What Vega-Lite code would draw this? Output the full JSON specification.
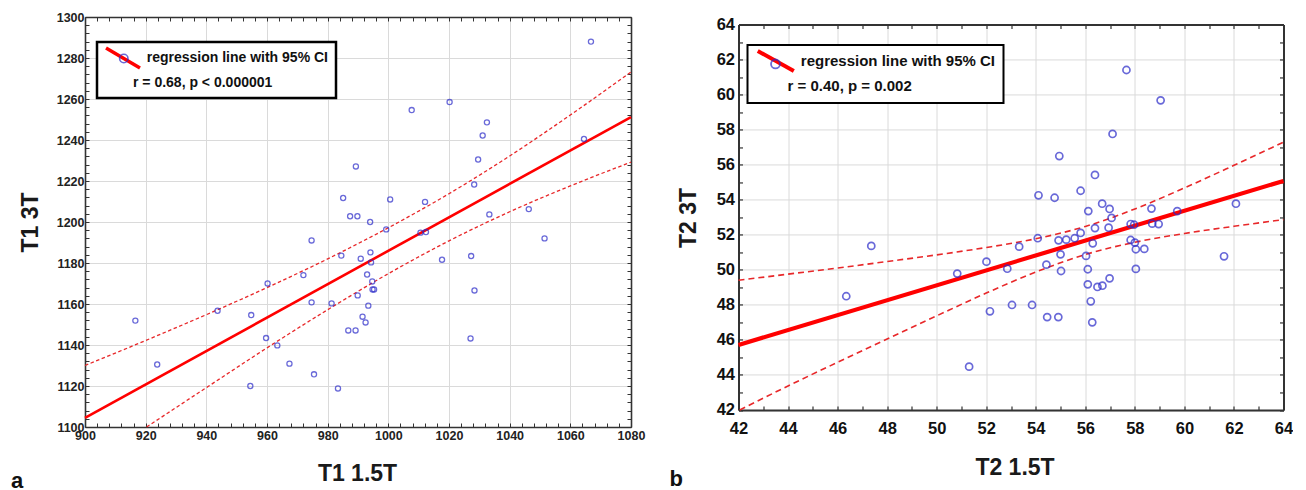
{
  "$schema": "https://vega.github.io/schema/vega-lite/v6.json",
  "padding": {"left": 11, "top": 11, "right": 0, "bottom": 3},
  "spacing": 24.5,
  "config": {
    "font": "Liberation Sans",
    "view": {"stroke": null},
    "axis": {"labelFont": "Liberation Sans", "titleFont": "Liberation Sans"},
    "legend": {"labelFont": "Liberation Sans", "titleFont": "Liberation Sans"}
  },
  "resolve": {
    "scale": {"stroke": "independent", "shape": "independent"},
    "legend": {"stroke": "independent", "shape": "independent"}
  },
  "datasets": {
    "t1pts": [
      {"x": 916.6, "y": 1151.9}, {"x": 923.8, "y": 1130.5}, {"x": 943.7, "y": 1156.7}, {"x": 954.5, "y": 1120.0},
      {"x": 954.8, "y": 1154.6}, {"x": 959.7, "y": 1143.4}, {"x": 960.2, "y": 1170.0}, {"x": 963.4, "y": 1139.8},
      {"x": 967.4, "y": 1130.9}, {"x": 972.0, "y": 1174.1}, {"x": 974.7, "y": 1191.0}, {"x": 974.7, "y": 1160.8},
      {"x": 975.5, "y": 1125.7}, {"x": 981.3, "y": 1160.3}, {"x": 983.4, "y": 1118.8}, {"x": 984.5, "y": 1183.6},
      {"x": 985.1, "y": 1211.7}, {"x": 986.8, "y": 1147.1}, {"x": 987.4, "y": 1202.8}, {"x": 989.2, "y": 1147.1},
      {"x": 989.3, "y": 1227.1}, {"x": 989.8, "y": 1202.8}, {"x": 989.9, "y": 1164.2}, {"x": 990.9, "y": 1182.1},
      {"x": 991.5, "y": 1153.8}, {"x": 992.5, "y": 1151.0}, {"x": 993.0, "y": 1174.4}, {"x": 993.4, "y": 1159.2},
      {"x": 994.0, "y": 1200.0}, {"x": 994.1, "y": 1185.2}, {"x": 994.3, "y": 1180.3}, {"x": 994.7, "y": 1171.0},
      {"x": 994.8, "y": 1167.1}, {"x": 995.3, "y": 1167.1}, {"x": 999.3, "y": 1196.4}, {"x": 1000.6, "y": 1211.0},
      {"x": 1007.7, "y": 1254.6}, {"x": 1010.6, "y": 1194.8}, {"x": 1012.1, "y": 1209.8}, {"x": 1012.4, "y": 1195.1},
      {"x": 1017.7, "y": 1181.6}, {"x": 1020.2, "y": 1258.5}, {"x": 1027.1, "y": 1143.2}, {"x": 1027.3, "y": 1183.4},
      {"x": 1028.3, "y": 1218.3}, {"x": 1028.4, "y": 1166.6}, {"x": 1029.6, "y": 1230.5}, {"x": 1031.1, "y": 1242.2},
      {"x": 1032.5, "y": 1248.6}, {"x": 1033.3, "y": 1203.7}, {"x": 1046.3, "y": 1206.3}, {"x": 1051.5, "y": 1192.0},
      {"x": 1064.5, "y": 1240.5}, {"x": 1066.8, "y": 1288.0}
    ],
    "t1reg": [{"x": 900, "y": 1104.4}, {"x": 1080, "y": 1251.2}],
    "t1ci": [
      {"bound": "upper", "x": 900, "y": 1130.0}, {"bound": "upper", "x": 920, "y": 1142.2},
      {"bound": "upper", "x": 940, "y": 1154.8}, {"bound": "upper", "x": 960, "y": 1168.0},
      {"bound": "upper", "x": 980, "y": 1182.0}, {"bound": "upper", "x": 1000, "y": 1197.2},
      {"bound": "upper", "x": 1020, "y": 1213.8}, {"bound": "upper", "x": 1040, "y": 1232.2},
      {"bound": "upper", "x": 1060, "y": 1252.2}, {"bound": "upper", "x": 1080, "y": 1273.2},
      {"bound": "lower", "x": 920.3, "y": 1100.0}, {"bound": "lower", "x": 940, "y": 1119.2},
      {"bound": "lower", "x": 960, "y": 1138.6}, {"bound": "lower", "x": 980, "y": 1157.2},
      {"bound": "lower", "x": 1000, "y": 1174.8}, {"bound": "lower", "x": 1020, "y": 1190.8},
      {"bound": "lower", "x": 1040, "y": 1205.0}, {"bound": "lower", "x": 1060, "y": 1217.6},
      {"bound": "lower", "x": 1080, "y": 1229.2}
    ],
    "t2pts": [
      {"x": 46.35, "y": 48.49}, {"x": 47.36, "y": 51.36}, {"x": 50.83, "y": 49.78}, {"x": 51.31, "y": 44.47},
      {"x": 52.01, "y": 50.46}, {"x": 52.15, "y": 47.63}, {"x": 52.85, "y": 50.06}, {"x": 53.04, "y": 47.99},
      {"x": 53.33, "y": 51.32}, {"x": 53.85, "y": 47.99}, {"x": 54.08, "y": 51.80}, {"x": 54.11, "y": 54.25},
      {"x": 54.43, "y": 50.29}, {"x": 54.46, "y": 47.30}, {"x": 54.76, "y": 54.11}, {"x": 54.91, "y": 47.30},
      {"x": 54.92, "y": 51.68}, {"x": 54.95, "y": 56.49}, {"x": 55.00, "y": 50.88}, {"x": 55.02, "y": 49.93},
      {"x": 55.23, "y": 51.72}, {"x": 55.57, "y": 51.80}, {"x": 55.81, "y": 54.51}, {"x": 55.81, "y": 52.10},
      {"x": 56.03, "y": 50.79}, {"x": 56.10, "y": 50.03}, {"x": 56.10, "y": 49.17}, {"x": 56.12, "y": 53.35},
      {"x": 56.22, "y": 48.20}, {"x": 56.28, "y": 47.00}, {"x": 56.30, "y": 51.51}, {"x": 56.39, "y": 55.41},
      {"x": 56.39, "y": 52.38}, {"x": 56.49, "y": 49.02}, {"x": 56.68, "y": 53.77}, {"x": 56.69, "y": 49.09},
      {"x": 56.94, "y": 52.40}, {"x": 56.98, "y": 53.47}, {"x": 56.98, "y": 49.51}, {"x": 57.06, "y": 52.96},
      {"x": 57.10, "y": 57.75}, {"x": 57.66, "y": 61.40}, {"x": 57.83, "y": 52.61}, {"x": 57.83, "y": 51.70},
      {"x": 57.97, "y": 52.57}, {"x": 58.00, "y": 51.55}, {"x": 58.04, "y": 51.17}, {"x": 58.04, "y": 50.05},
      {"x": 58.38, "y": 51.19}, {"x": 58.67, "y": 53.49}, {"x": 58.70, "y": 52.63}, {"x": 58.96, "y": 52.61},
      {"x": 59.04, "y": 59.67}, {"x": 59.71, "y": 53.35}, {"x": 61.60, "y": 50.77}, {"x": 62.08, "y": 53.77}
    ],
    "t2reg": [{"x": 42, "y": 45.71}, {"x": 64, "y": 55.07}],
    "t2ci": [
      {"bound": "upper", "x": 42, "y": 49.40}, {"bound": "upper", "x": 44, "y": 49.75},
      {"bound": "upper", "x": 46, "y": 50.10}, {"bound": "upper", "x": 48, "y": 50.47},
      {"bound": "upper", "x": 50, "y": 50.85}, {"bound": "upper", "x": 52, "y": 51.27},
      {"bound": "upper", "x": 54, "y": 51.77}, {"bound": "upper", "x": 56, "y": 52.47},
      {"bound": "upper", "x": 58, "y": 53.47}, {"bound": "upper", "x": 60, "y": 54.67},
      {"bound": "upper", "x": 62, "y": 55.96}, {"bound": "upper", "x": 64, "y": 57.28},
      {"bound": "lower", "x": 42.05, "y": 42.0}, {"bound": "lower", "x": 44, "y": 43.37},
      {"bound": "lower", "x": 46, "y": 44.72}, {"bound": "lower", "x": 48, "y": 46.05},
      {"bound": "lower", "x": 50, "y": 47.37}, {"bound": "lower", "x": 52, "y": 48.67},
      {"bound": "lower", "x": 54, "y": 49.87}, {"bound": "lower", "x": 56, "y": 50.87},
      {"bound": "lower", "x": 58, "y": 51.57}, {"bound": "lower", "x": 60, "y": 52.07},
      {"bound": "lower", "x": 62, "y": 52.48}, {"bound": "lower", "x": 64, "y": 52.86}
    ]
  },
  "hconcat": [
    {
      "width": 546,
      "height": 410,
      "title": {"text": "a", "orient": "bottom", "anchor": "start", "frame": "bounds", "fontSize": 22, "fontWeight": "bold", "color": "#111111", "offset": -14, "dx": -8},
      "resolve": {"axis": {"x": "independent", "y": "independent"}},
      "layer": [
        {
          "data": {"name": "t1ci"},
          "mark": {"type": "line", "color": "#e8282a", "strokeWidth": 1.3, "strokeDash": [3.5, 2.5], "interpolate": "monotone"},
          "encoding": {
            "x": {"field": "x", "type": "quantitative", "scale": {"domain": [900, 1080], "nice": false, "zero": false},
              "axis": {"orient": "bottom", "format": "d",
                "values": [900,904,908,912,916,920,924,928,932,936,940,944,948,952,956,960,964,968,972,976,980,984,988,992,996,1000,1004,1008,1012,1016,1020,1024,1028,1032,1036,1040,1044,1048,1052,1056,1060,1064,1068,1072,1076,1080],
                "labelExpr": "datum.value % 20 === 0 ? datum.label : ''",
                "labelOverlap": false, "labelFlush": false, "labelBound": false,
                "labelFontSize": 12.5, "labelFontWeight": "bold", "labelColor": "#222222", "labelPadding": 6.5,
                "grid": true, "gridColor": "#dadada", "gridWidth": 1,
                "gridOpacity": {"condition": {"test": "datum.value % 20 === 0", "value": 1}, "value": 0},
                "tickSize": -4, "tickColor": "#333333", "tickWidth": 1,
                "domainColor": "#333333", "domainWidth": 1.6,
                "title": "T1 1.5T", "titleFontSize": 23, "titleFontWeight": "bold", "titleColor": "#1a1a1a",
                "titleX": 272, "titleY": 46, "titleAlign": "center", "titleBaseline": "middle"}},
            "y": {"field": "y", "type": "quantitative", "scale": {"domain": [1100, 1300], "nice": false, "zero": false},
              "axis": {"orient": "left", "format": "d",
                "values": [1100,1104,1108,1112,1116,1120,1124,1128,1132,1136,1140,1144,1148,1152,1156,1160,1164,1168,1172,1176,1180,1184,1188,1192,1196,1200,1204,1208,1212,1216,1220,1224,1228,1232,1236,1240,1244,1248,1252,1256,1260,1264,1268,1272,1276,1280,1284,1288,1292,1296,1300],
                "labelExpr": "datum.value % 20 === 0 ? datum.label : ''",
                "labelOverlap": false, "labelFlush": false, "labelBound": false,
                "labelFontSize": 12.5, "labelFontWeight": "bold", "labelColor": "#222222", "labelPadding": 5,
                "grid": true, "gridColor": "#dadada", "gridWidth": 1,
                "gridOpacity": {"condition": {"test": "datum.value % 20 === 0", "value": 1}, "value": 0},
                "tickSize": -4, "tickColor": "#333333", "tickWidth": 1,
                "domainColor": "#333333", "domainWidth": 1.6,
                "title": "T1 3T", "titleFontSize": 23, "titleFontWeight": "bold", "titleColor": "#1a1a1a",
                "titleX": -55, "titleY": 205, "titleAlign": "center", "titleBaseline": "middle", "titleAngle": -90}},
            "detail": {"field": "bound", "type": "nominal"}
          }
        },
        {
          "data": {"name": "t1reg"},
          "mark": {"type": "line", "strokeWidth": 2.6},
          "encoding": {
            "x": {"field": "x", "type": "quantitative", "scale": {"domain": [900, 1080], "nice": false, "zero": false},
              "axis": {"orient": "top", "values": [900,904,908,912,916,920,924,928,932,936,940,944,948,952,956,960,964,968,972,976,980,984,988,992,996,1000,1004,1008,1012,1016,1020,1024,1028,1032,1036,1040,1044,1048,1052,1056,1060,1064,1068,1072,1076,1080],
                "labels": false, "grid": false, "tickSize": -4, "tickColor": "#333333", "domainColor": "#333333", "domainWidth": 1.6, "title": null}},
            "y": {"field": "y", "type": "quantitative", "scale": {"domain": [1100, 1300], "nice": false, "zero": false},
              "axis": {"orient": "right", "values": [1100,1104,1108,1112,1116,1120,1124,1128,1132,1136,1140,1144,1148,1152,1156,1160,1164,1168,1172,1176,1180,1184,1188,1192,1196,1200,1204,1208,1212,1216,1220,1224,1228,1232,1236,1240,1244,1248,1252,1256,1260,1264,1268,1272,1276,1280,1284,1288,1292,1296,1300],
                "labels": false, "grid": false, "tickSize": -4, "tickColor": "#333333", "domainColor": "#333333", "domainWidth": 1.6, "title": null}},
            "stroke": {"datum": "regression line with 95% CI", "type": "nominal",
              "scale": {"range": ["#ff0000"]},
              "legend": {"orient": "none", "legendX": 12, "legendY": 25, "zindex": 1,
                "title": "r = 0.68, p < 0.000001", "titleOrient": "bottom", "titleAnchor": "start",
                "titleFontSize": 14, "titleFontWeight": "bold", "titleColor": "#111111", "titlePadding": 1, "titleLimit": 400,
                "labelFontSize": 14, "labelFontWeight": "bold", "labelColor": "#111111", "labelLimit": 400, "labelOffset": 15.7,
                "symbolType": "M-2.72,-1.6L2.72,1.6", "symbolSize": 156, "symbolStrokeWidth": 3.5, "symbolOffset": 10,
                "strokeColor": "#000000", "fillColor": "#ffffff", "padding": 8, "cornerRadius": 0,
                "encode": {"legend": {"update": {"strokeWidth": {"value": 2.5}}}, "title": {"update": {"dx": {"value": 28}}}}}}
          }
        },
        {
          "data": {"name": "t1pts"},
          "mark": {"type": "point", "filled": false, "color": "#2b2bc9", "size": 26, "strokeWidth": 1.3},
          "encoding": {
            "x": {"field": "x", "type": "quantitative", "scale": {"domain": [900, 1080], "nice": false, "zero": false}, "axis": null},
            "y": {"field": "y", "type": "quantitative", "scale": {"domain": [1100, 1300], "nice": false, "zero": false}, "axis": null},
            "shape": {"datum": "pts", "type": "nominal", "scale": {"range": ["circle"]},
              "legend": {"orient": "none", "legendX": 33.8, "legendY": 36.5, "zindex": 3, "title": null,
                "labelExpr": "''", "labelFontSize": 1, "labelOffset": 0, "padding": 0,
                "symbolSize": 70, "symbolStrokeWidth": 1.6, "symbolStrokeColor": "#2b2bc9", "symbolFillColor": "transparent"}}
          }
        }
      ]
    },
    {
      "spacing": -1.55,
      "resolve": {
        "scale": {"stroke": "independent", "shape": "independent"},
        "legend": {"stroke": "independent", "shape": "independent"}
      },
      "vconcat": [
        {
          "width": 1,
          "height": 1,
          "data": {"values": []},
          "mark": {"type": "point", "opacity": 0},
          "encoding": {}
        },
        {
          "width": 545,
          "height": 385.5,
          "title": {"text": "b", "orient": "bottom", "anchor": "start", "frame": "bounds", "fontSize": 22, "fontWeight": "bold", "color": "#111111", "offset": -10.5, "dx": -8},
          "resolve": {"axis": {"x": "independent", "y": "independent"}},
          "layer": [
            {
              "data": {"name": "t2ci"},
              "mark": {"type": "line", "color": "#e8282a", "strokeWidth": 1.6, "strokeDash": [6, 4], "interpolate": "monotone"},
              "encoding": {
                "x": {"field": "x", "type": "quantitative", "scale": {"domain": [42, 64], "nice": false, "zero": false},
                  "axis": {"orient": "bottom",
                    "values": [42,43,44,45,46,47,48,49,50,51,52,53,54,55,56,57,58,59,60,61,62,63,64],
                    "labelExpr": "datum.value % 2 === 0 ? datum.label : ''",
                    "labelOverlap": false, "labelFlush": false, "labelBound": false,
                    "labelFontSize": 16.5, "labelFontWeight": "bold", "labelColor": "#111111", "labelPadding": 15,
                    "grid": true, "gridColor": "#dadada", "gridWidth": 1,
                    "gridOpacity": {"condition": {"test": "datum.value % 2 === 0", "value": 1}, "value": 0},
                    "tickSize": -4, "tickColor": "#333333", "tickWidth": 1.2,
                    "domainColor": "#333333", "domainWidth": 2,
                    "title": "T2 1.5T", "titleFontSize": 23, "titleFontWeight": "bold", "titleColor": "#1a1a1a",
                    "titleX": 276, "titleY": 58, "titleAlign": "center", "titleBaseline": "middle"}},
                "y": {"field": "y", "type": "quantitative", "scale": {"domain": [42, 64], "nice": false, "zero": false},
                  "axis": {"orient": "left",
                    "values": [42,43,44,45,46,47,48,49,50,51,52,53,54,55,56,57,58,59,60,61,62,63,64],
                    "labelExpr": "datum.value % 2 === 0 ? datum.label : ''",
                    "labelOverlap": false, "labelFlush": false, "labelBound": false,
                    "labelFontSize": 16.5, "labelFontWeight": "bold", "labelColor": "#111111", "labelPadding": 8,
                    "grid": true, "gridColor": "#dadada", "gridWidth": 1,
                    "gridOpacity": {"condition": {"test": "datum.value % 2 === 0", "value": 1}, "value": 0},
                    "tickSize": -4, "tickColor": "#333333", "tickWidth": 1.2,
                    "domainColor": "#333333", "domainWidth": 2,
                    "title": "T2 3T", "titleFontSize": 23, "titleFontWeight": "bold", "titleColor": "#1a1a1a",
                    "titleX": -50, "titleY": 193, "titleAlign": "center", "titleBaseline": "middle", "titleAngle": -90}},
                "detail": {"field": "bound", "type": "nominal"}
              }
            },
            {
              "data": {"name": "t2reg"},
              "mark": {"type": "line", "strokeWidth": 4.2},
              "encoding": {
                "x": {"field": "x", "type": "quantitative", "scale": {"domain": [42, 64], "nice": false, "zero": false},
                  "axis": {"orient": "top", "values": [42,43,44,45,46,47,48,49,50,51,52,53,54,55,56,57,58,59,60,61,62,63,64],
                    "labels": false, "grid": false, "tickSize": -4, "tickColor": "#333333", "tickWidth": 1.2, "domainColor": "#333333", "domainWidth": 2, "title": null}},
                "y": {"field": "y", "type": "quantitative", "scale": {"domain": [42, 64], "nice": false, "zero": false},
                  "axis": {"orient": "right", "values": [42,43,44,45,46,47,48,49,50,51,52,53,54,55,56,57,58,59,60,61,62,63,64],
                    "labels": false, "grid": false, "tickSize": -4, "tickColor": "#333333", "tickWidth": 1.2, "domainColor": "#333333", "domainWidth": 2, "title": null}},
                "stroke": {"datum": "regression line with 95% CI", "type": "nominal",
                  "scale": {"range": ["#ff0000"]},
                  "legend": {"orient": "none", "legendX": 9, "legendY": 20.5, "zindex": 1,
                    "title": "r = 0.40, p = 0.002", "titleOrient": "bottom", "titleAnchor": "start",
                    "titleFontSize": 15, "titleFontWeight": "bold", "titleColor": "#111111", "titlePadding": 0.5, "titleLimit": 400,
                    "labelFontSize": 15, "labelFontWeight": "bold", "labelColor": "#111111", "labelLimit": 400, "labelOffset": 17,
                    "symbolType": "M-3.16,-1.75L3.16,1.75", "symbolSize": 130, "symbolStrokeWidth": 4, "symbolOffset": 12.3,
                    "strokeColor": "#000000", "fillColor": "#ffffff", "padding": 8, "cornerRadius": 0,
                    "encode": {"legend": {"update": {"strokeWidth": {"value": 2}}}, "title": {"update": {"dx": {"value": 32}}}}}}
              }
            },
            {
              "data": {"name": "t2pts"},
              "mark": {"type": "point", "filled": false, "color": "#2b2bc9", "size": 50, "strokeWidth": 1.7},
              "encoding": {
                "x": {"field": "x", "type": "quantitative", "scale": {"domain": [42, 64], "nice": false, "zero": false}, "axis": null},
                "y": {"field": "y", "type": "quantitative", "scale": {"domain": [42, 64], "nice": false, "zero": false}, "axis": null},
                "shape": {"datum": "pts", "type": "nominal", "scale": {"range": ["circle"]},
                  "legend": {"orient": "none", "legendX": 31.5, "legendY": 34, "zindex": 3, "title": null,
                    "labelExpr": "''", "labelFontSize": 1, "labelOffset": 0, "padding": 0,
                    "symbolSize": 80, "symbolStrokeWidth": 1.8, "symbolStrokeColor": "#2b2bc9", "symbolFillColor": "transparent"}}
              }
            }
          ]
        }
      ]
    }
  ]
}
